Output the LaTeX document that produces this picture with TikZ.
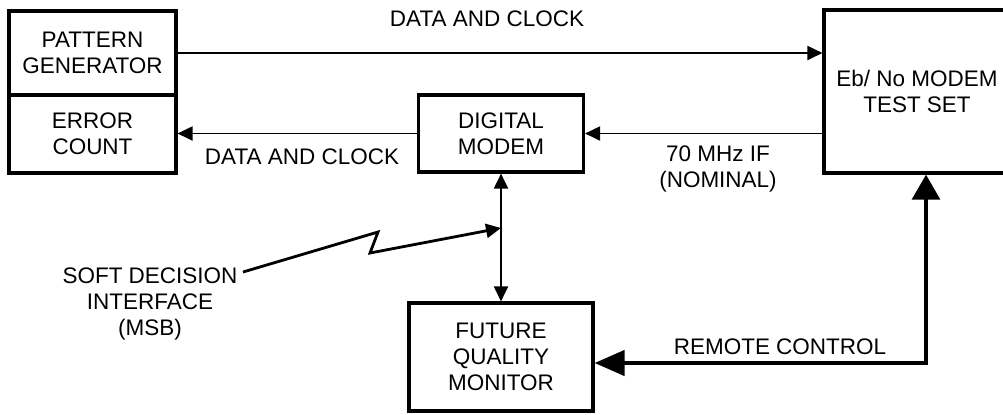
\documentclass[tikz,border=0pt]{standalone}
\usepackage{fontspec}
\setmainfont{Liberation Sans}
\usetikzlibrary{arrows.meta}

\begin{document}
\begin{tikzpicture}[x=0.02cm, y=-0.02cm,
    every node/.style={font=\fontsize{12.8}{15}\selectfont, align=center},
    blk/.style={draw, line width=1.8pt, inner sep=0pt},
    sig/.style={line width=1.1pt, -{Triangle[length=0.3cm,width=0.28cm]}},
    rc/.style={line width=2.4pt, {Triangle[length=0.6cm,width=0.5cm]}-{Triangle[length=0.5cm,width=0.55cm]}}]
    \useasboundingbox (0, 0) rectangle (1003, 414);

    % blocks
    \node[blk, minimum width=3.34cm, minimum height=1.68cm] (pat) at (92.5, 53) {PATTERN\\GENERATOR};
    \node[blk, minimum width=3.34cm, minimum height=1.56cm] (err) at (92.5, 134) {ERROR\\COUNT};
    \node[blk, minimum width=3.3cm, minimum height=1.54cm] (modem) at (501, 133.5) {DIGITAL\\MODEM};
    \node[blk, minimum width=3.72cm, minimum height=3.26cm] (ebno) at (917, 91.5) {Eb/ No MODEM\\TEST SET};
    \node[blk, minimum width=3.68cm, minimum height=2.16cm] (fqm) at (501, 357) {FUTURE\\QUALITY\\MONITOR};

    % signals
    \draw[sig] (pat.east) -- (pat.east -| ebno.west);
    \draw[sig] (modem.east -| ebno.west) -- (modem.east);
    \draw[sig] (modem.west) -- (modem.west -| err.east);
    \draw[sig, {Triangle[length=0.3cm,width=0.28cm]}-{Triangle[length=0.3cm,width=0.28cm]}] (modem.south) -- (fqm.north);
    \draw[rc] ([yshift=-0.12cm]fqm.east) -| ([xshift=0.18cm]ebno.south);

    % soft decision
    \coordinate (sdi) at (243, 272);
    \coordinate (tap) at (501, 228);
    \draw[sig, line width=1.6pt] (sdi) -- (378, 232) -- (370, 253) -- (tap);

    % labels
    \node (l1) at (487, 19) {DATA AND CLOCK};
    \node (l2) at (302, 157) {DATA AND CLOCK};
    \node (l3) at (718, 169) {70 MHz IF\\(NOMINAL)};
    \node (l4) at (780, 347) {REMOTE CONTROL};
    \node (soft) at (150, 304) {SOFT DECISION\\INTERFACE\\(MSB)};
\end{tikzpicture}
\end{document}
